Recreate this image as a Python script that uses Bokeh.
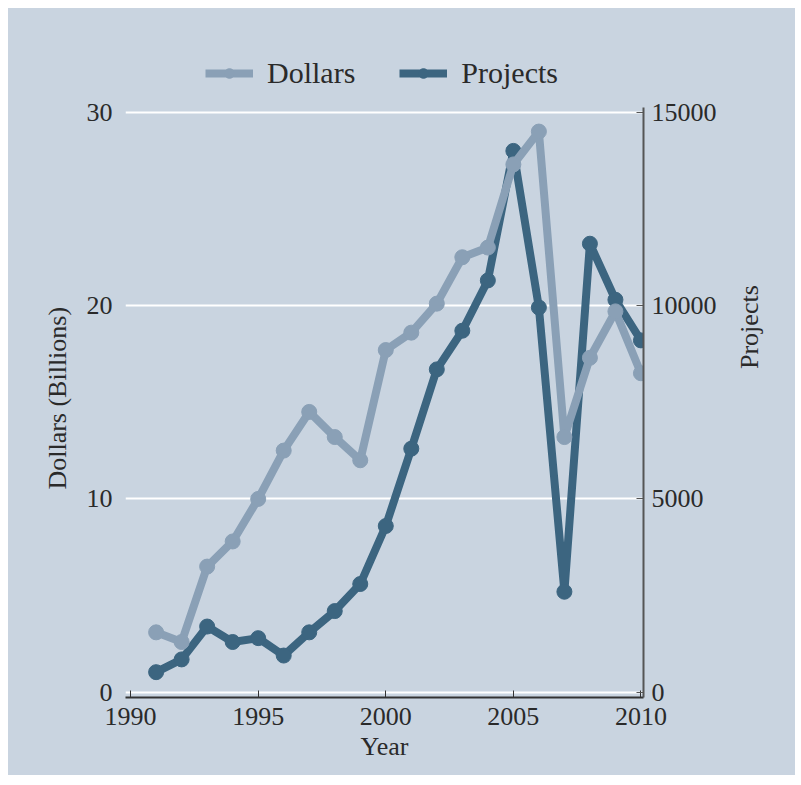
import math
from bokeh.plotting import figure
from bokeh.models import Range1d, LinearAxis, Legend, LegendItem, FixedTicker
from bokeh.embed import file_html
from bokeh.resources import INLINE

years = list(range(1991, 2011))
dollars = [3.1, 2.6, 6.5, 7.8, 10.0, 12.5, 14.5, 13.2, 12.0, 17.7,
           18.6, 20.1, 22.5, 23.0, 27.3, 29.0, 13.2, 17.3, 19.7, 16.5]
projects = [520, 850, 1700, 1300, 1400, 950, 1550, 2100, 2800, 4300,
            6300, 8350, 9350, 10650, 14000, 9950, 2600, 11600, 10150, 9100]
x_ticks = [1990, 1995, 2000, 2005, 2010]
left_ticks = [0, 10, 20, 30]
right_ticks = [0, 5000, 10000, 15000]

BG = "#c9d4e0"
LIGHT = "#8aa0b6"
DARK = "#3c6580"
TXT = "#2a2a2a"
FONT = "Liberation Serif"
PAD = "\u00a0"

# frame extends above the 30 line to host the legend (legend is clipped to frame)
p = figure(width=787, height=767, output_backend="svg", toolbar_location=None,
           x_range=Range1d(1989.8, 2010.1), y_range=Range1d(-0.27, 33.71),
           min_border_left=117, min_border_right=152, min_border_top=32,
           min_border_bottom=78)
p.margin = (8, 0, 0, 8)
p.background_fill_alpha = 0
p.border_fill_color = BG
p.styles = {"background-color": BG}
p.outline_line_color = None
p.extra_y_ranges = {"proj": Range1d(-135, 16855)}

p.xgrid.visible = False
p.ygrid.ticker = FixedTicker(ticks=left_ticks)
p.ygrid.grid_line_color = "white"
p.ygrid.grid_line_width = 2

xa = p.xaxis[0]
xa.ticker = FixedTicker(ticks=x_ticks)
xa.axis_label = "Year"
xa.axis_line_color = "#333333"
xa.axis_line_width = 2
xa.major_tick_in = 7
xa.major_tick_out = 0
xa.major_tick_line_color = "#333333"
xa.minor_tick_line_color = None
xa.major_label_standoff = 10
xa.axis_label_standoff = 4

ya = p.yaxis[0]
ya.ticker = FixedTicker(ticks=left_ticks)
ya.axis_label = "Dollars (Billions)" + PAD * 9
ya.axis_line_color = None
ya.major_tick_line_color = None
ya.minor_tick_line_color = None
ya.major_label_standoff = 7
ya.axis_label_standoff = 12
ya.bounds = (-0.27, 30.24)

ra = LinearAxis(y_range_name="proj", axis_label="Projects" + PAD * 10,
                ticker=FixedTicker(ticks=right_ticks), bounds=(-135, 15120))
ra.axis_label_orientation = math.pi / 2
ra.axis_line_color = "#555555"
ra.axis_line_width = 2
ra.major_tick_in = 7
ra.major_tick_out = 0
ra.major_tick_line_color = "#555555"
ra.minor_tick_line_color = None
ra.major_label_standoff = 8
ra.axis_label_standoff = 30
p.add_layout(ra, "right")

for ax in (xa, ya, ra):
    ax.major_label_text_font = FONT
    ax.major_label_text_font_size = "26px"
    ax.major_label_text_color = TXT
    ax.axis_label_text_font = FONT
    ax.axis_label_text_font_size = "26px"
    ax.axis_label_text_font_style = "normal"
    ax.axis_label_text_color = TXT
ra.axis_label_text_align = "center"

pl = p.line(years, projects, y_range_name="proj", line_color=DARK, line_width=8,
            line_join="round")
pc = p.scatter(years, projects, y_range_name="proj", size=15, fill_color=DARK,
               line_color=DARK)
dl = p.line(years, dollars, line_color=LIGHT, line_width=8, line_join="round")
dc = p.scatter(years, dollars, size=15, fill_color=LIGHT, line_color=LIGHT)

legend = Legend(items=[LegendItem(label="Dollars", renderers=[dl, dc]),
                       LegendItem(label="Projects", renderers=[pl, pc])],
                orientation="horizontal", location=(80, 607),
                background_fill_alpha=0, border_line_color=None,
                glyph_width=48, glyph_height=24, label_standoff=14, spacing=44,
                padding=0, margin=0,
                label_text_font=FONT, label_text_font_size="30px",
                label_text_color=TXT)
p.add_layout(legend, "center")

open("out.html", "w").write(file_html(p, INLINE))
